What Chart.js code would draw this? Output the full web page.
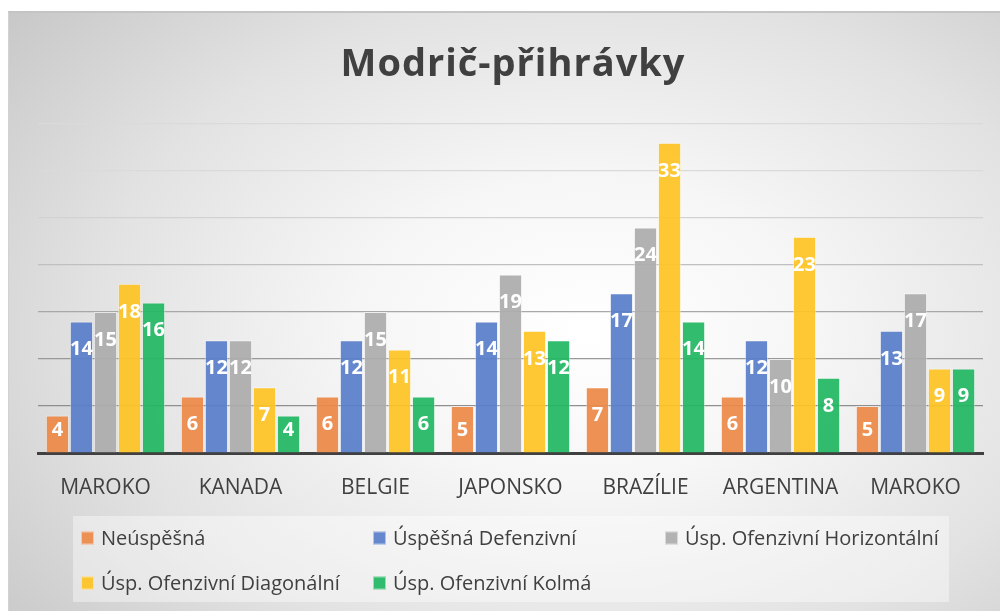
<!DOCTYPE html>
<html>
<head>
<meta charset="utf-8">
<script src="https://cdn.jsdelivr.net/npm/chart.js@4"></script>
<style>
  html, body { margin: 0; padding: 0; background: #fff; }
  #wrap { position: relative; width: 1000px; height: 611px; overflow: hidden; }
  #bg {
    position: absolute; left: 8px; top: 11px; width: 1010px; height: 610px;
    border-top: 2px solid #c4c4c4; border-left: 1px solid #d2d2d2;
    background: radial-gradient(ellipse 75% 85% at 57% 52%, #ffffff 0%, #f6f6f6 30%, #e2e2e2 65%, #c6c6c6 100%);
  }
  canvas { position: absolute; left: 0; top: 0; }
</style>
</head>
<body>
<div id="wrap">
  <div id="bg"></div>
  <canvas id="chart" width="1000" height="611"></canvas>
</div>
<script>
const categories = ['MAROKO', 'KANADA', 'BELGIE', 'JAPONSKO', 'BRAZÍLIE', 'ARGENTINA', 'MAROKO'];
const seriesNames = ['Neúspěšná', 'Úspěšná Defenzivní', 'Úsp. Ofenzivní Horizontální', 'Úsp. Ofenzivní Diagonální', 'Úsp. Ofenzivní Kolmá'];
const neuspesna   = [4, 6, 6, 5, 7, 6, 5];
const defenzivni  = [14, 12, 12, 14, 17, 12, 13];
const horizontalni = [15, 12, 15, 19, 24, 10, 17];
const diagonalni  = [18, 7, 11, 13, 33, 23, 9];
const kolma       = [16, 4, 6, 12, 14, 8, 9];
const colors = ['rgba(237,137,72,0.93)', 'rgba(88,126,202,0.93)', 'rgba(172,172,172,0.93)', 'rgba(253,196,36,0.93)', 'rgba(33,183,99,0.93)'];
const gridColors = ['#404040', '#8e8e8e', '#999999', '#a8a8a8', '#c0c0c0', '#d2d2d2', '#dadada', '#dadada'];

const FONT = '"Open Sans", "Noto Sans", sans-serif';
const TEXT = '#404040';

const allSeries = [neuspesna, defenzivni, horizontalni, diagonalni, kolma];

// title, value labels and legend are drawn by this plugin
const extras = {
  id: 'extras',
  afterDatasetsDraw(chart) {
    const ctx = chart.ctx;
    ctx.save();
    ctx.font = 'bold 20px ' + FONT;
    ctx.fillStyle = '#ffffff';
    ctx.textAlign = 'center';
    ctx.textBaseline = 'middle';
    chart.data.datasets.forEach((ds, i) => {
      chart.getDatasetMeta(i).data.forEach((bar, j) => {
        const cy = Math.min(bar.y + 28, bar.base - 22);
        ctx.fillText(String(ds.data[j]), bar.x, cy);
      });
    });
    ctx.restore();
  },
  afterDraw(chart) {
    const ctx = chart.ctx;
    ctx.save();
    // title
    ctx.font = 'bold 38px ' + FONT;
    ctx.letterSpacing = '1px';
    ctx.fillStyle = TEXT;
    ctx.textAlign = 'center';
    ctx.textBaseline = 'alphabetic';
    ctx.fillText('Modrič-přihrávky', 513, 76);
    ctx.letterSpacing = '0px';

    // legend
    ctx.fillStyle = 'rgba(255,255,255,0.4)';
    ctx.fillRect(73, 516, 876, 86);
    const colX = [81, 373, 665];
    const rowY = [538, 583];
    ctx.font = '20px ' + FONT;
    ctx.textAlign = 'left';
    ctx.textBaseline = 'middle';
    chart.data.datasets.forEach((ds, i) => {
      const x = colX[i % 3];
      const y = rowY[Math.floor(i / 3)];
      ctx.fillStyle = ds.backgroundColor;
      ctx.fillRect(x, y - 6.5, 13, 13);
      ctx.strokeStyle = 'rgba(255,255,255,0.5)';
      ctx.lineWidth = 1;
      ctx.strokeRect(x + 0.5, y - 6, 12, 12);
      ctx.fillStyle = TEXT;
      ctx.fillText(ds.label, x + 20, y + 1);
    });
    ctx.restore();
  }
};

new Chart(document.getElementById('chart'), {
  type: 'bar',
  data: {
    labels: categories,
    datasets: seriesNames.map((name, i) => ({
      label: name,
      data: allSeries[i],
      backgroundColor: colors[i],
      borderColor: 'rgba(255,255,255,0.45)',
      borderWidth: 1,
      categoryPercentage: 0.89,
      barPercentage: 0.97
    }))
  },
  options: {
    responsive: false,
    animation: false,
    layout: { padding: { top: 124, left: 38, right: 17, bottom: 0 } },
    plugins: {
      legend: { display: false },
      title: { display: false },
      tooltip: { enabled: false }
    },
    scales: {
      x: {
        grid: { display: false, drawTicks: false },
        border: { display: true, color: '#404040', width: 3 },
        ticks: { color: TEXT, font: { family: FONT, size: 21 }, padding: 22, maxRotation: 0 },
        afterFit(s) { s.height = 158; }
      },
      y: {
        min: 0,
        max: 35,
        ticks: { display: false, stepSize: 5 },
        grid: {
          drawTicks: false,
          lineWidth: 1.2,
          color: c => gridColors[c.index] || '#dadada'
        },
        border: { display: false },
        afterFit(s) { s.width = 0; }
      }
    }
  },
  plugins: [extras]
});
</script>
</body>
</html>
